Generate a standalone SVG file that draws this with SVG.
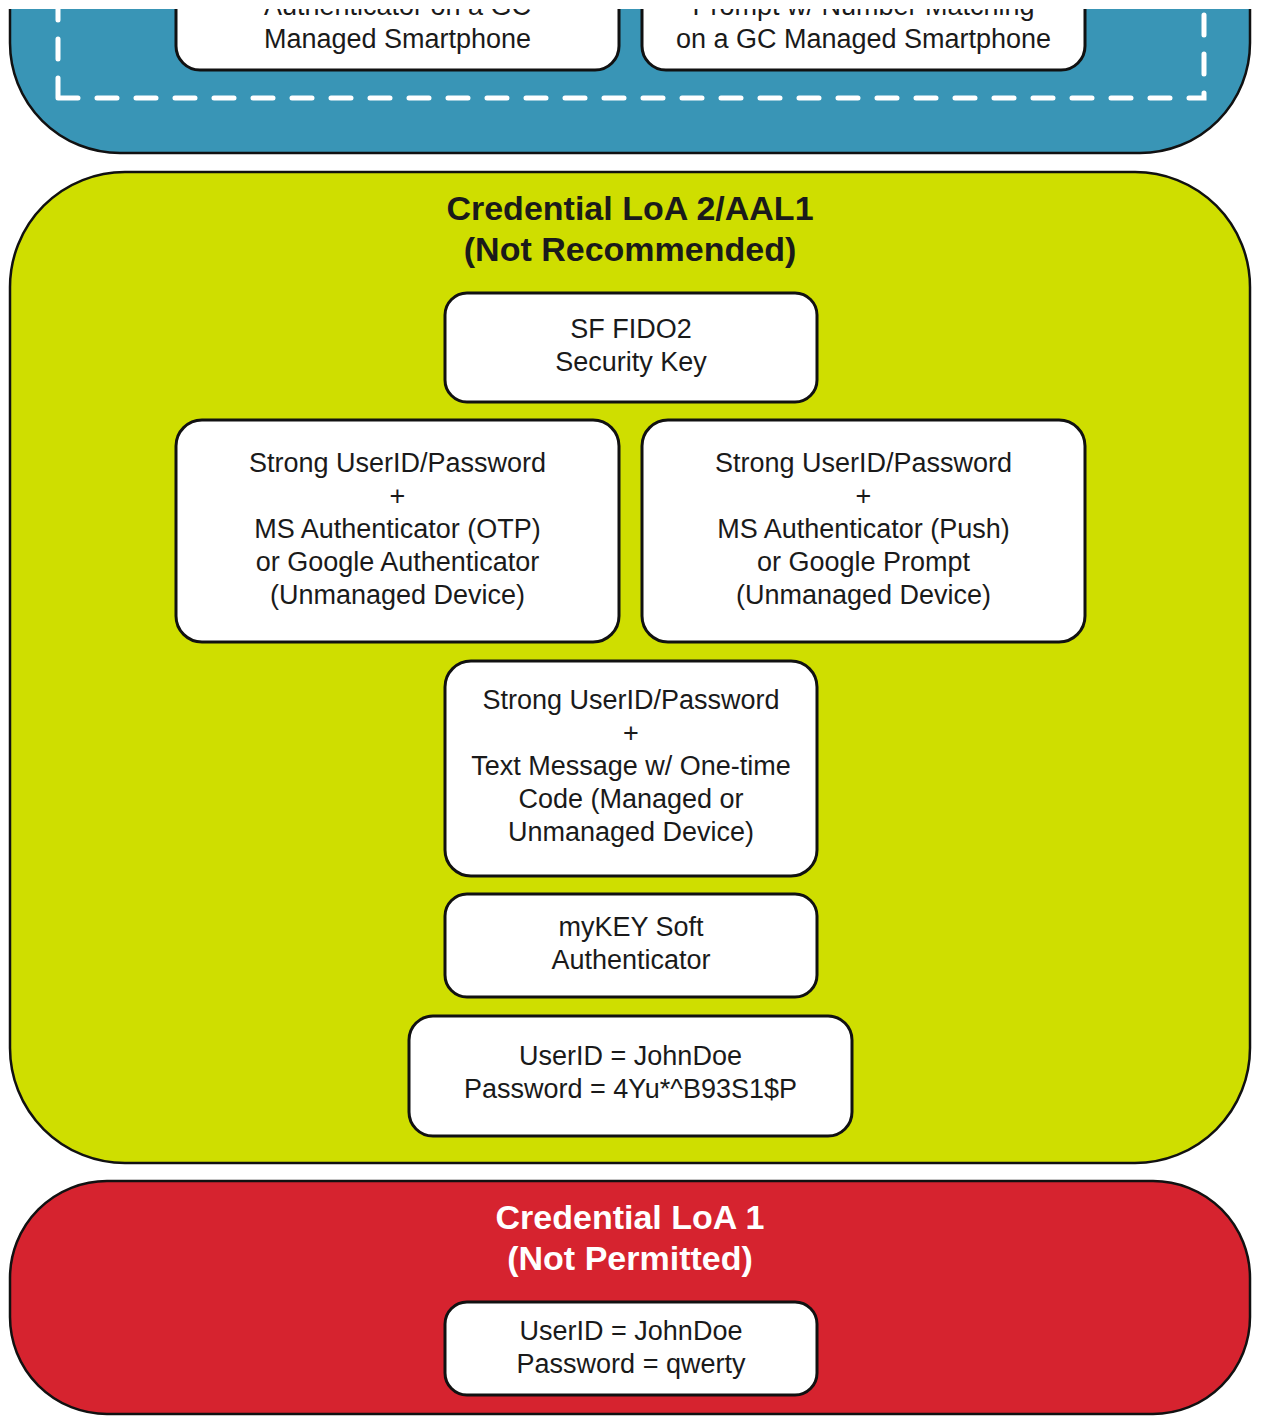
<svg xmlns="http://www.w3.org/2000/svg" width="1261" height="1416" viewBox="0 0 1261 1416">
<defs>
<style>
.cont{stroke:#111;stroke-width:2.5}
.box{fill:#fff;stroke:#111;stroke-width:3}
.t{font-family:"Liberation Sans",Arial,sans-serif;font-size:27px;fill:#1a1a1a;text-anchor:middle}
.h{font-family:"Liberation Sans",Arial,sans-serif;font-size:34px;font-weight:bold;text-anchor:middle}
.dash{fill:none;stroke:#fff;stroke-width:5;stroke-dasharray:20 19;stroke-linecap:round}
</style>
<clipPath id="clipTop"><rect x="0" y="9" width="1261" height="1407"/></clipPath>
</defs>
<rect x="0" y="0" width="1261" height="1416" fill="#fff"/>
<g id="loa3" clip-path="url(#clipTop)">
<rect class="cont" x="10" y="-300" width="1240" height="453" rx="110" fill="#3995b6"/>
<path class="dash" d="M58,98 L58,-200 M58,98 L1204,98 L1204,-200"/>
<g id="box-top-left">
<rect class="box" x="176" y="-100" width="443" height="170" rx="24"/>
<text class="t" x="397.5" y="15">Authenticator on a GC</text>
<text class="t" x="397.5" y="48">Managed Smartphone</text>
</g>
<g id="box-top-right">
<rect class="box" x="642" y="-100" width="443" height="170" rx="24"/>
<text class="t" x="863.5" y="15">Prompt w/ Number Matching</text>
<text class="t" x="863.5" y="48">on a GC Managed Smartphone</text>
</g>
</g>
<g id="loa2">
<rect class="cont" x="10" y="172" width="1240" height="991" rx="115" fill="#cfde00"/>
<text class="h" x="630" y="220" fill="#1a1a1a">Credential LoA 2/AAL1</text>
<text class="h" x="630" y="261" fill="#1a1a1a">(Not Recommended)</text>
</g>
<g id="box-fido2">
<rect class="box" x="445" y="293" width="372" height="109" rx="22"/>
<text class="t" x="631" y="338">SF FIDO2</text>
<text class="t" x="631" y="371">Security Key</text>
</g>
<g id="box-otp">
<rect class="box" x="176" y="420" width="443" height="222" rx="26"/>
<text class="t" x="397.5" y="472">Strong UserID/Password</text>
<text class="t" x="397.5" y="505">+</text>
<text class="t" x="397.5" y="538">MS Authenticator (OTP)</text>
<text class="t" x="397.5" y="571">or Google Authenticator</text>
<text class="t" x="397.5" y="604">(Unmanaged Device)</text>
</g>
<g id="box-push">
<rect class="box" x="642" y="420" width="443" height="222" rx="26"/>
<text class="t" x="863.5" y="472">Strong UserID/Password</text>
<text class="t" x="863.5" y="505">+</text>
<text class="t" x="863.5" y="538">MS Authenticator (Push)</text>
<text class="t" x="863.5" y="571">or Google Prompt</text>
<text class="t" x="863.5" y="604">(Unmanaged Device)</text>
</g>
<g id="box-sms">
<rect class="box" x="445" y="661" width="372" height="215" rx="26"/>
<text class="t" x="631" y="709">Strong UserID/Password</text>
<text class="t" x="631" y="742">+</text>
<text class="t" x="631" y="775">Text Message w/ One-time</text>
<text class="t" x="631" y="808">Code (Managed or</text>
<text class="t" x="631" y="841">Unmanaged Device)</text>
</g>
<g id="box-mykey">
<rect class="box" x="445" y="894" width="372" height="103" rx="22"/>
<text class="t" x="631" y="936">myKEY Soft</text>
<text class="t" x="631" y="969">Authenticator</text>
</g>
<g id="box-strong-pw">
<rect class="box" x="409" y="1016" width="443" height="120" rx="24"/>
<text class="t" x="630.5" y="1065">UserID = JohnDoe</text>
<text class="t" x="630.5" y="1098">Password = 4Yu*^B93S1$P</text>
</g>
<g id="loa1">
<rect class="cont" x="10" y="1181" width="1240" height="233" rx="97" fill="#d6232f"/>
<text class="h" x="630" y="1229" fill="#fff">Credential LoA 1</text>
<text class="h" x="630" y="1270" fill="#fff">(Not Permitted)</text>
</g>
<g id="box-weak-pw">
<rect class="box" x="445" y="1302" width="372" height="93" rx="22"/>
<text class="t" x="631" y="1340">UserID = JohnDoe</text>
<text class="t" x="631" y="1373">Password = qwerty</text>
</g>
<g id="connectors"/>
</svg>
